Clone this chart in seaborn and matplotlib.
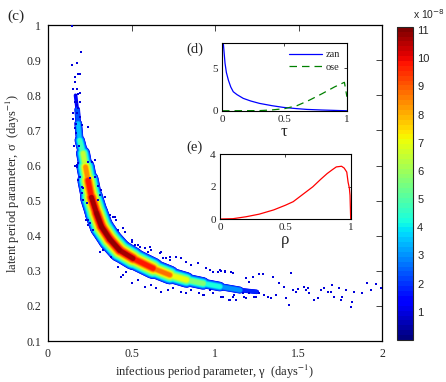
import numpy as np
import matplotlib
matplotlib.use('Agg')
import matplotlib.pyplot as plt
import seaborn as sns
from matplotlib.collections import LineCollection
from matplotlib.colors import Normalize
from matplotlib.cm import ScalarMappable

# ridge of the dense band: gamma, sigma and peak density (x 1e-8)
ridge_gamma = [0.165, 0.175, 0.181, 0.19, 0.21, 0.225, 0.24, 0.26, 0.29, 0.32, 0.37, 0.43,
               0.51, 0.63, 0.73, 0.83, 0.93, 1.03, 1.15, 1.25, 1.35]
ridge_sigma = [0.80, 0.76, 0.72, 0.672, 0.635, 0.596, 0.558, 0.51, 0.465, 0.426, 0.39, 0.358,
               0.335, 0.307, 0.288, 0.274, 0.264, 0.255, 0.245, 0.24, 0.236]
ridge_peak = [1.2, 2.0, 3.0, 4.0, 5.5, 7.5, 9.5, 10.5, 11.0, 11.0, 11.0, 11.0,
              10.5, 9.5, 8.0, 6.5, 5.0, 3.8, 2.5, 1.5, 0.8]

# sparse samples around the band
pts_gamma = [0.141, 0.195, 0.171, 0.141, 0.181, 0.191, 0.161, 0.161, 0.147, 0.175, 0.191, 0.167,
             0.161, 0.175, 0.19, 0.181, 0.147, 0.171, 0.151, 0.191, 0.167, 0.237, 0.157, 0.187,
             0.161, 0.175, 0.28, 0.261, 0.30, 0.25, 0.28, 0.177, 0.171, 0.201, 0.161, 0.165,
             0.171, 0.181, 0.241, 0.191, 0.181, 0.201, 0.32, 0.211, 0.34, 0.241, 0.239, 0.40,
             0.41, 0.45,
             0.211, 0.201, 0.231, 0.227, 0.251, 0.271, 0.31, 0.33, 0.38, 0.42, 0.44, 0.47, 0.50,
             0.31, 0.30, 0.37, 0.39, 0.42, 0.46, 0.50, 0.52, 0.55, 0.599, 0.619, 0.669, 0.689, 0.728,
             0.50, 0.539, 0.579, 0.609, 0.619, 0.679, 0.709, 0.728, 0.768, 0.798, 0.828, 0.858,
             0.897, 0.947, 0.987, 1.027, 1.057, 1.106, 1.186, 1.226,
             0.45, 0.50, 0.539, 0.579, 0.619, 0.649, 0.679, 0.718, 0.748, 0.798, 0.828, 0.858,
             0.907, 0.937, 0.987, 1.047, 1.087, 1.116, 1.176, 1.206, 1.246,
             0.967, 1.017, 1.037, 1.057, 1.097, 1.266, 1.286, 1.345, 1.455, 0.927, 0.967, 1.037,
             1.083, 1.106, 1.127, 1.166, 1.186, 1.206, 1.236, 1.266, 1.296, 1.316, 1.336, 1.365,
             1.385, 1.415, 1.445, 1.425, 1.465, 1.485, 1.495, 1.534, 1.544, 1.554, 1.564, 1.594,
             1.614, 1.634, 1.654, 1.674, 1.694, 1.713, 1.703, 1.743, 1.753, 1.763, 1.783, 1.813,
             1.823, 1.833, 1.882, 1.912, 1.932, 1.962, 1.992]
pts_sigma = [0.997, 0.922, 0.893, 0.886, 0.862, 0.862, 0.851, 0.839, 0.818, 0.818, 0.807, 0.80,
             0.78, 0.78, 0.78, 0.763, 0.751, 0.751, 0.733, 0.739, 0.718, 0.71, 0.655, 0.655,
             0.60, 0.596, 0.615, 0.611, 0.541, 0.563, 0.568, 0.803, 0.772, 0.715, 0.706, 0.692,
             0.601, 0.606, 0.611, 0.568, 0.559, 0.539, 0.530, 0.502, 0.511, 0.445, 0.43, 0.454,
             0.445, 0.421,
             0.535, 0.521, 0.492, 0.445, 0.435, 0.416, 0.354, 0.359, 0.340, 0.312, 0.283, 0.297, 0.264,
             0.516, 0.502, 0.459, 0.454, 0.416, 0.411, 0.383, 0.373, 0.369, 0.354, 0.359, 0.350, 0.336, 0.340,
             0.388, 0.373, 0.364, 0.369, 0.359, 0.354, 0.336, 0.331, 0.340, 0.336, 0.326, 0.316,
             0.321, 0.307, 0.297, 0.302, 0.297, 0.293, 0.279, 0.283,
             0.288, 0.264, 0.274, 0.255, 0.260, 0.250, 0.240, 0.245, 0.250, 0.240, 0.236, 0.245,
             0.236, 0.231, 0.236, 0.226, 0.217, 0.231, 0.226, 0.236, 0.226,
             0.302, 0.297, 0.299, 0.300, 0.297, 0.291, 0.291, 0.283, 0.293, 0.231, 0.245, 0.226,
             0.217, 0.226, 0.217, 0.236, 0.222, 0.269, 0.226, 0.236, 0.231, 0.226, 0.222, 0.231,
             0.264, 0.255, 0.203, 0.222, 0.245, 0.240, 0.247, 0.255, 0.245, 0.250, 0.238, 0.217,
             0.222, 0.245, 0.250, 0.240, 0.240, 0.226, 0.260, 0.250, 0.217, 0.226, 0.245, 0.198,
             0.212, 0.240, 0.238, 0.264, 0.245, 0.262, 0.250]
pts_level = 0.9

# inset (d)
tau = [0.0, 0.003, 0.01, 0.024, 0.035, 0.051, 0.07, 0.09, 0.12, 0.17, 0.23, 0.30, 0.40,
       0.49, 0.60, 0.68, 0.80, 0.89, 1.0]
zan = [11.0, 9.5, 8.0, 5.6, 4.5, 3.6, 2.8, 2.24, 1.9, 1.46, 1.15, 0.87, 0.6,
       0.40, 0.25, 0.16, 0.09, 0.05, 0.0]
tau_ose = [0.0, 0.3, 0.4, 0.5, 0.6, 0.7, 0.8, 0.9, 0.95, 0.98, 1.0, 1.0]
ose = [0.0, 0.02, 0.1, 0.25, 0.6, 1.25, 2.0, 2.8, 3.15, 3.35, 3.3, 0.0]

# inset (e)
rho = [0.0, 0.1, 0.2, 0.3, 0.41, 0.5, 0.56, 0.63, 0.71, 0.77, 0.82, 0.86, 0.89, 0.93,
       0.95, 0.97, 0.98, 0.99, 0.995, 1.0]
rho_pdf = [0.0, 0.02, 0.14, 0.3, 0.56, 0.85, 1.07, 1.5, 1.99, 2.45, 2.81, 3.05, 3.22, 3.26,
           3.15, 2.9, 2.28, 1.9, 1.46, 0.0]

sns.set_style('white')
plt.rcParams['font.family'] = ['Liberation Serif', 'DejaVu Serif']
plt.rcParams['mathtext.fontset'] = 'stix'

cmap = plt.get_cmap('jet', 64)
norm = Normalize(0, 11.12)

fig = plt.figure(figsize=(4.46, 3.82), dpi=100)
ax = fig.add_axes([0.1076, 0.1073, 0.749, 0.827])

# dense band, drawn as stacked layers of increasing density
g = np.array(ridge_gamma)
s = np.array(ridge_sigma)
p = np.array(ridge_peak)
segs = [[(g[i], s[i]), (g[i + 1], s[i + 1])] for i in range(len(g) - 1)]
seg_peak = (p[:-1] + p[1:]) / 2
for lev in np.arange(1.5, 11.01, 0.2):
    idx = np.where(seg_peak > lev)[0]
    if len(idx) == 0:
        continue
    widths = (2.1 * (seg_peak[idx] - lev) + 3.5) * 72 / 100
    lc = LineCollection([segs[i] for i in idx], linewidths=widths,
                        colors=[cmap(norm(lev))], capstyle='round', zorder=2)
    ax.add_collection(lc)

sns.scatterplot(x=pts_gamma, y=pts_sigma, ax=ax, color=cmap(norm(pts_level)), s=3.5,
                marker='s', linewidth=0, zorder=3)

ax.set_xlim(0, 2)
ax.set_ylim(0.1, 1)
ax.set_xticks([0, 0.5, 1, 1.5, 2])
ax.set_xticklabels(['0', '0.5', '1', '1.5', '2'])
ax.set_yticks([0.1, 0.2, 0.3, 0.4, 0.5, 0.6, 0.7, 0.8, 0.9, 1])
ax.set_yticklabels(['0.1', '0.2', '0.3', '0.4', '0.5', '0.6', '0.7', '0.8', '0.9', '1'])
ax.tick_params(direction='in', top=True, right=True, length=4, width=0.6, labelsize=8.5, pad=5)
for sp in ax.spines.values():
    sp.set_linewidth(0.9)
    sp.set_color('black')
ax.set_xlabel(r'infectious period parameter, γ  (days$^{-1}$)', fontsize=9)
ax.set_ylabel(r'latent period parameter, σ  (days$^{-1}$)', fontsize=9)
ax.xaxis.set_label_coords(0.5, -0.07)
ax.yaxis.set_label_coords(-0.078, 0.5)

fig.text(0.016, 0.975, '(c)', fontsize=11, ha='left', va='top')

# colorbar
cax = fig.add_axes([0.890, 0.110, 0.0359, 0.820])
cb = fig.colorbar(ScalarMappable(norm=norm, cmap=cmap), cax=cax)
cb.set_ticks(list(range(1, 12)))
cax.tick_params(direction='in', length=3, width=0.6, labelsize=8, right=True, left=False, pad=3)
for lab in cax.get_yticklabels():
    lab.set_family(['Liberation Sans', 'DejaVu Sans'])
cb.outline.set_linewidth(0.8)
fig.text(0.926, 0.963, r'x 10$^{-8}$', fontsize=7.5, family=['Liberation Sans', 'DejaVu Sans'],
         math_fontfamily='dejavusans', ha='left', va='center')

# inset (d)
axd = fig.add_axes([0.4978, 0.710, 0.280, 0.178])
sns.lineplot(x=tau, y=zan, ax=axd, color='#0000ff', lw=0.9, sort=False, label='zan')
sns.lineplot(x=tau_ose, y=ose, ax=axd, color='#008000', lw=0.9, sort=False, label='ose',
             linestyle=(0, (6, 4)))
axd.set_xlim(0, 1)
axd.set_ylim(0, 8)
axd.set_xticks([0, 0.5, 1])
axd.set_xticklabels(['0', '0.5', '1'])
axd.set_yticks([0, 5])
axd.set_yticklabels(['0', '5'])
axd.tick_params(direction='in', top=True, right=True, length=2.5, width=0.6, labelsize=8, pad=3)
axd.set_xlabel('τ', fontsize=12, labelpad=0)
axd.legend(loc='upper right', frameon=False, fontsize=7.5, handlelength=3.2,
           borderaxespad=0.3, labelspacing=0.3, handletextpad=0.3)
for sp in axd.spines.values():
    sp.set_linewidth(0.8)
    sp.set_color('black')
fig.text(0.419, 0.890, '(d)', fontsize=10.5, ha='left', va='top')

# inset (e)
axe = fig.add_axes([0.4933, 0.4267, 0.293, 0.1694])
sns.lineplot(x=rho, y=rho_pdf, ax=axe, color='#ff0000', lw=0.9, sort=False)
axe.set_xlim(0, 1)
axe.set_ylim(0, 4)
axe.set_xticks([0, 0.5, 1])
axe.set_xticklabels(['0', '0.5', '1'])
axe.set_yticks([0, 2, 4])
axe.set_yticklabels(['0', '2', '4'])
axe.tick_params(direction='in', top=True, right=True, length=2.5, width=0.6, labelsize=8, pad=3)
axe.set_xlabel('ρ', fontsize=12, labelpad=0)
for sp in axe.spines.values():
    sp.set_linewidth(0.8)
    sp.set_color('black')
fig.text(0.419, 0.631, '(e)', fontsize=10.5, ha='left', va='top')

fig.savefig('out.png', dpi=100)
